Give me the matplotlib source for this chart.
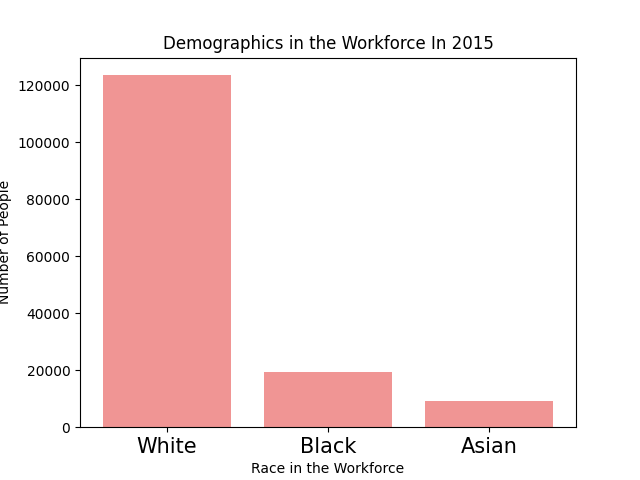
import matplotlib
matplotlib.use("Agg")
import matplotlib.pyplot as plt

races = ["White", "Black", "Asian"]
people = [123500, 19300, 9100]

fig, ax = plt.subplots(figsize=(6.4, 4.8), dpi=100)
ax.bar(races, people, color="#f09594", width=0.8)
ax.set_title("Demographics in the Workforce In 2015")
ax.set_xlabel("Race in the Workforce")
ax.set_ylabel("Number of People")
ax.tick_params(axis="x", labelsize=15)

plt.savefig("out.png")
